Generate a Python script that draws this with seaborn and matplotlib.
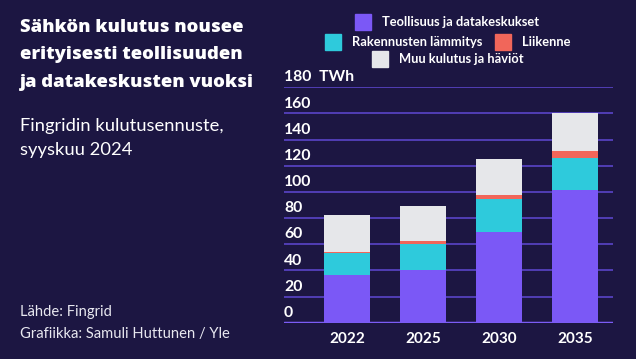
import matplotlib
matplotlib.use("Agg")
import matplotlib.pyplot as plt
import seaborn as sns
import pandas as pd
import numpy as np

years = ["2022", "2025", "2030", "2035"]
teollisuus = [36.5, 40.3, 69.4, 101.5]
rakennukset = [16.6, 19.9, 25.0, 24.5]
liikenne = [1.0, 2.3, 3.3, 5.4]
muu = [28.3, 26.8, 27.6, 29.1]
series_names = ["Teollisuus ja datakeskukset", "Rakennusten lämmitys", "Liikenne", "Muu kulutus ja häviöt"]
colors = ["#7b58f6", "#2ecadc", "#f1665a", "#e6e7ea"]
yticks = [0, 20, 40, 60, 80, 100, 120, 140, 160, 180]

BG = "#1c1642"
GRID = "#5a44c8"

sns.set_theme(style="white")
plt.rcParams['font.family'] = ['Lato', 'DejaVu Sans']

fig = plt.figure(figsize=(6.36, 3.59), dpi=100, facecolor=BG)
ax = fig.add_axes([284/636, 1-322.7/359, (613-284)/636, (322.7-87.3)/359])
ax.set_facecolor(BG)

df = pd.DataFrame({"year": years})
layers = [teollisuus, rakennukset, liikenne, muu]
bottom = np.zeros(len(years))
for name, vals, c in zip(series_names, layers, colors):
    df["v"] = vals
    sns.barplot(data=df, x="year", y="v", color=c, bottom=bottom, width=0.605,
                ax=ax, saturation=1, linewidth=0, zorder=3)
    bottom = bottom + np.array(vals)

ax.set_ylim(0, 180)
ax.set_xlim(-0.829, 3.5)
ax.set_yticks(yticks)
ax.set_yticklabels([])
for t in yticks[1:]:
    ax.axhline(t, color=GRID, lw=1.2, zorder=1)
ax.axhline(0, color="#7b5cf5", lw=2.5, zorder=4)
for s in ax.spines.values():
    s.set_visible(False)
ax.tick_params(axis='both', length=0)
ax.set_xlabel("")
ax.set_ylabel("")
ax.tick_params(axis='x', colors="white", labelsize=11, pad=7)
for lab in ax.get_xticklabels():
    lab.set_fontweight("bold")
for t in yticks:
    label = f"{t}  TWh" if t == 180 else f"{t}"
    ax.text(0, t + 2.2, label, transform=ax.get_yaxis_transform(), ha="left", va="bottom",
            color="white", fontsize=11.3, fontweight="bold", zorder=5)

# Title texts
fig.text(20/636, 1-19/359, "Sähkön kulutus nousee\nerityisesti teollisuuden\nja datakeskusten vuoksi",
         color="white", fontsize=13.3, fontweight="heavy", va="top", ha="left", linespacing=1.8,
         family=["Open Sans", "DejaVu Sans"])
fig.text(20/636, 1-118/359, "Fingridin kulutusennuste,\nsyyskuu 2024", color="white", fontsize=13.2,
         va="top", ha="left", linespacing=1.62)
fig.text(20/636, 1-312/359, "Lähde: Fingrid", color="#e8e8f0", fontsize=10.6, va="center", ha="left")
fig.text(20/636, 1-334/359, "Grafiikka: Samuli Huttunen / Yle", color="#e8e8f0", fontsize=10.6, va="center", ha="left")

# Legend
def leg(x_sq, y, c, text):
    fig.patches.append(plt.Rectangle((x_sq/636, 1-(y+8)/359), 16/636, 16/359,
                                     transform=fig.transFigure, color=c, figure=fig))
    fig.text((x_sq+27)/636, 1-y/359, text, color="white", fontsize=9.3, fontweight="bold",
             va="center", ha="left")

leg(355, 22, colors[0], series_names[0])
leg(325, 42, colors[1], series_names[1])
leg(495, 42, colors[2], series_names[2])
leg(372, 59, colors[3], series_names[3])

fig.savefig("out.png", dpi=100, facecolor=BG)
